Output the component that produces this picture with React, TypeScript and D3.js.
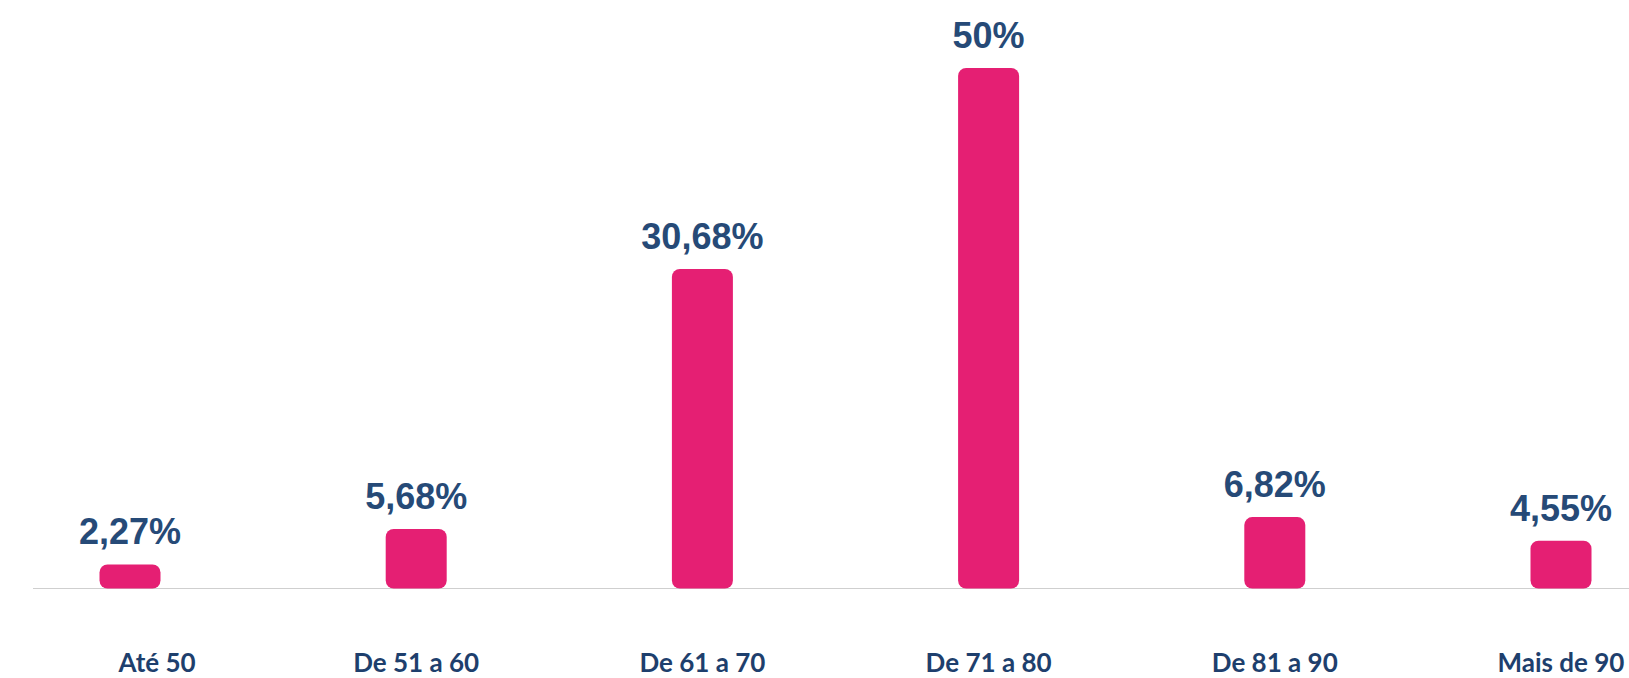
import React, { useEffect, useRef } from 'react';
import * as d3 from 'd3';

const categories = ['Até 50', 'De 51 a 60', 'De 61 a 70', 'De 71 a 80', 'De 81 a 90', 'Mais de 90'];
const values = [2.27, 5.68, 30.68, 50, 6.82, 4.55];
const valueLabels = ['2,27%', '5,68%', '30,68%', '50%', '6,82%', '4,55%'];

const App: React.FC = () => {
  const svgRef = useRef<SVGSVGElement>(null);

  useEffect(() => {
    document.body.style.margin = '0';
    if (!svgRef.current) return;
    const svg = d3.select(svgRef.current);
    svg.selectAll('*').remove();

    const width = 1629;
    const height = 678;
    const baseY = 588;
    const barW = 61;

    const x = d3.scalePoint<string>()
      .domain(categories)
      .range([130, 1561]);

    const y = d3.scaleLinear()
      .domain([0, 50])
      .range([baseY, 68]);

    svg.attr('width', width).attr('height', height);

    // baseline
    svg.append('line')
      .attr('x1', 33)
      .attr('x2', width)
      .attr('y1', baseY + 0.5)
      .attr('y2', baseY + 0.5)
      .attr('stroke', '#cfcfcf')
      .attr('stroke-width', 1);

    const g = svg.append('g');

    g.selectAll('rect')
      .data(values)
      .enter().append('rect')
      .attr('x', (_, i) => (x(categories[i]) as number) - barW / 2)
      .attr('y', d => y(d))
      .attr('width', barW)
      .attr('height', d => Math.max(baseY - y(d), 16) + 0.5)
      .attr('rx', 8)
      .attr('fill', '#e51f73');

    // value labels
    g.selectAll('text.val')
      .data(values)
      .enter().append('text')
      .attr('class', 'val')
      .attr('x', (_, i) => x(categories[i]) as number)
      .attr('y', d => Math.min(y(d), baseY - 16) - 20)
      .attr('text-anchor', 'middle')
      .style('fill', '#264a77')
      .style('font-size', '36px')
      .style('font-weight', '700')
      .style('font-family', '"Liberation Sans", Arial, sans-serif')
      .text((_, i) => valueLabels[i]);

    // category labels
    g.selectAll('text.cat')
      .data(categories)
      .enter().append('text')
      .attr('class', 'cat')
      .attr('x', d => (x(d) as number) + (d === 'Até 50' ? 27 : 0))
      .attr('y', 672)
      .attr('text-anchor', 'middle')
      .style('fill', '#1e3f6d')
      .style('font-size', '26px')
      .style('font-weight', '700')
      .style('font-family', 'Lato, "Open Sans", sans-serif')
      .text(d => d);
  }, []);

  return (
    <div style={{ width: 1629, height: 678, background: '#ffffff' }}>
      <svg ref={svgRef} viewBox="0 0 1629 678" style={{ display: 'block' }}></svg>
    </div>
  );
};

export default App;
